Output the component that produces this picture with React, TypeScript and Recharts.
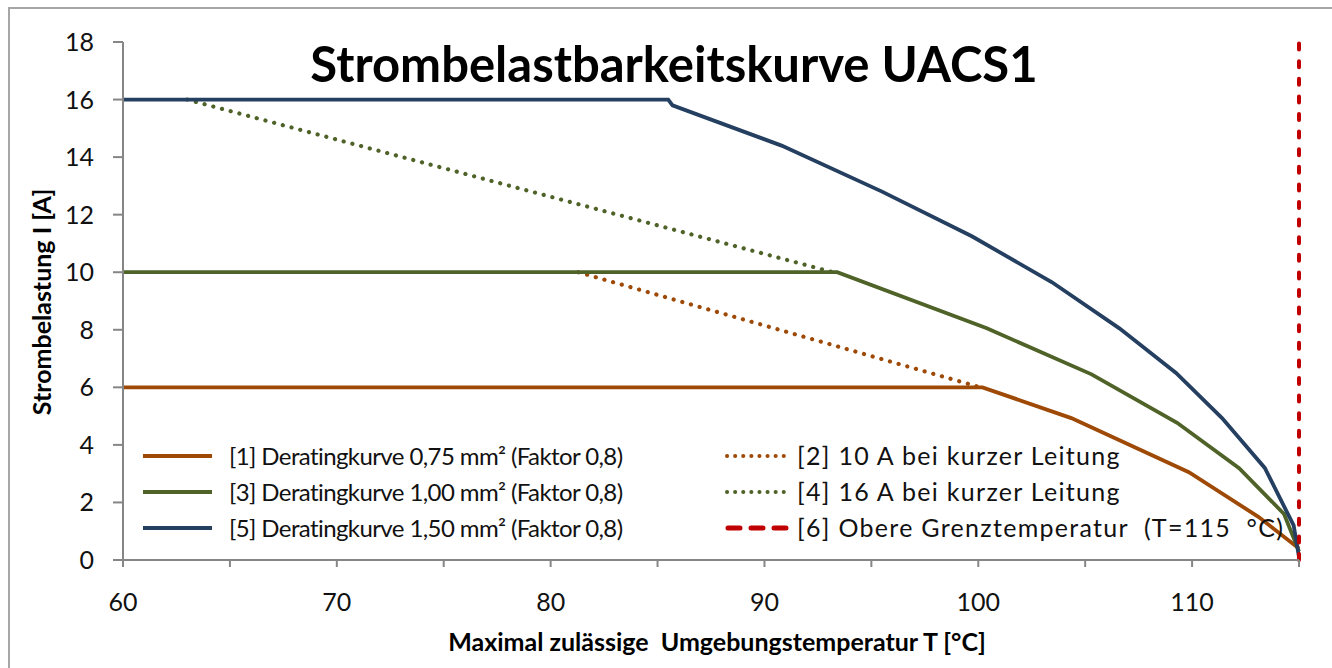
import React from 'react';
import { LineChart, Line, XAxis, YAxis, Legend } from 'recharts';

// ---- data ----
const temp075 = [60, 100.2, 104.35, 109.85, 113.1, 115];
const curr075 = [6, 6, 4.93, 3.05, 1.5, 0.4];

const temp10A = [81.3, 100.1];
const curr10A = [10, 6];

const temp100 = [60, 93.4, 100.4, 105.3, 109.3, 112.2, 114.3, 115];
const curr100 = [10, 10, 8.05, 6.45, 4.77, 3.19, 1.6, 0.3];

const temp16A = [63, 93.2];
const curr16A = [16, 10];

const temp150 = [60, 85.5, 85.7, 90.8, 95.5, 99.7, 103.45, 106.6, 109.25, 111.4, 113.4, 114.75, 115];
const curr150 = [16, 16, 15.8, 14.4, 12.8, 11.25, 9.65, 8.05, 6.5, 4.93, 3.2, 1.2, 0.1];

const tempLimit = [115, 115];
const currLimit = [0, 18];

const xTicks = [60, 65, 70, 75, 80, 85, 90, 95, 100, 105, 110, 115];
const xLabelTicks = [60, 70, 80, 90, 100, 110];
const yTicks = [0, 2, 4, 6, 8, 10, 12, 14, 16, 18];

const seriesNames = [
  '[1] Deratingkurve 0,75 mm² (Faktor 0,8)',
  '[2] 10 A bei kurzer Leitung',
  '[3] Deratingkurve 1,00 mm² (Faktor 0,8)',
  '[4] 16 A bei kurzer Leitung',
  '[5] Deratingkurve 1,50 mm² (Faktor 0,8)',
  '[6] Obere Grenztemperatur  (T=115  °C)',
];

const titleText = 'Strombelastbarkeitskurve UACS1';
const xAxisTitle = 'Maximal zulässige  Umgebungstemperatur T [°C]';
const yAxisTitle = 'Strombelastung I [A]';

const zip = (xs: number[], ys: number[]) => xs.map((x, i) => ({ x, y: ys[i] }));

const BROWN = '#9E4A06';
const GREEN = '#4F6228';
const BLUE = '#243F60';
const RED = '#C00000';
const AXIS = '#868686';
const FONT = 'Lato, "DejaVu Sans", sans-serif';

const DOTTED = '0.1 8.9';

const legendStyles = [
  { color: BROWN, kind: 'solid' },
  { color: BROWN, kind: 'dot' },
  { color: GREEN, kind: 'solid' },
  { color: GREEN, kind: 'dot' },
  { color: BLUE, kind: 'solid' },
  { color: RED, kind: 'dash' },
];

const XTick = (props: any) => {
  const { x, payload } = props;
  if (!xLabelTicks.includes(payload.value)) return null;
  return (
    <text x={x} y={611} textAnchor="middle" fontFamily={FONT} fontSize={25} fill="#111">
      {payload.value}
    </text>
  );
};

const YTick = (props: any) => {
  const { y, payload } = props;
  return (
    <text x={94} y={y} dy="0.36em" textAnchor="end" fontFamily={FONT} fontSize={25} fill="#111">
      {payload.value}
    </text>
  );
};

const LegendContent = () => {
  const rowsY = [456, 492, 528];
  return (
    <svg width={1332} height={668} style={{ position: 'absolute', left: 0, top: 0 }}>
      {seriesNames.map((name, i) => {
        const col = i % 2;
        const row = Math.floor(i / 2);
        const y = rowsY[row];
        const x1 = col === 0 ? 143 : 725;
        const x2 = col === 0 ? 212 : 788;
        const tx = col === 0 ? 229 : 797;
        const st = legendStyles[i];
        let line;
        if (st.kind === 'solid') {
          line = <line x1={x1} x2={x2} y1={y} y2={y} stroke={st.color} strokeWidth={4} />;
        } else if (st.kind === 'dot') {
          line = (
            <line x1={x1 + 2} x2={x2} y1={y} y2={y} stroke={st.color} strokeWidth={4}
              strokeDasharray="0.1 8" strokeLinecap="round" />
          );
        } else {
          line = (
            <line x1={x1 + 3} x2={x2} y1={y} y2={y} stroke={st.color} strokeWidth={5}
              strokeDasharray="12 11" strokeLinecap="round" />
          );
        }
        return (
          <g key={i}>
            {line}
            <text x={tx} y={y} dy="0.36em" fontFamily={FONT} fontSize={col === 0 ? 24 : 25}
              letterSpacing={col === 0 ? -0.6 : 1.3} fill="#111"
              style={{ whiteSpace: 'pre' }}>
              {name}
            </text>
          </g>
        );
      })}
    </svg>
  );
};

export default function App() {
  return (
    <div style={{ position: 'absolute', left: 0, top: 0, width: 1332, height: 668, overflow: 'hidden', background: '#fff' }}>
      <div style={{ position: 'absolute', left: 8, top: 7, width: 1400, height: 700, border: '2px solid #a6a6a6' }} />
      <div style={{ position: 'absolute', left: 0, top: 0 }}>
        <LineChart width={1332} height={668} margin={{ top: 42, right: 33, bottom: 0, left: 0 }}>
          <XAxis
            type="number"
            dataKey="x"
            domain={[60, 115]}
            ticks={xTicks}
            interval={0}
            height={108}
            tickSize={7}
            axisLine={{ stroke: AXIS, strokeWidth: 2 }}
            tickLine={{ stroke: AXIS, strokeWidth: 2 }}
            tick={<XTick />}
          />
          <YAxis
            type="number"
            dataKey="y"
            domain={[0, 18]}
            ticks={yTicks}
            interval={0}
            width={123}
            tickSize={10}
            axisLine={{ stroke: AXIS, strokeWidth: 2 }}
            tickLine={{ stroke: AXIS, strokeWidth: 2 }}
            tick={<YTick />}
          />
          <Line data={zip(temp10A, curr10A)} dataKey="y" type="linear" stroke={BROWN} strokeWidth={4.2}
            strokeDasharray={DOTTED} strokeLinecap="round" dot={false} isAnimationActive={false} />
          <Line data={zip(temp16A, curr16A)} dataKey="y" type="linear" stroke={GREEN} strokeWidth={4.2}
            strokeDasharray={DOTTED} strokeLinecap="round" dot={false} isAnimationActive={false} />
          <Line data={zip(temp075, curr075)} dataKey="y" type="linear" stroke={BROWN} strokeWidth={3.8}
            dot={false} isAnimationActive={false} />
          <Line data={zip(temp100, curr100)} dataKey="y" type="linear" stroke={GREEN} strokeWidth={3.8}
            dot={false} isAnimationActive={false} />
          <Line data={zip(temp150, curr150)} dataKey="y" type="linear" stroke={BLUE} strokeWidth={3.8}
            dot={false} isAnimationActive={false} />
          <Line data={zip(tempLimit, currLimit)} dataKey="y" type="linear" stroke={RED} strokeWidth={4}
            strokeDasharray="6 11.6" strokeLinecap="round" dot={false} isAnimationActive={false} />
          <Legend verticalAlign="middle" align="center" layout="horizontal"
            wrapperStyle={{ position: 'absolute', left: 0, top: 0, width: 1332, height: 668 }}
            content={<LegendContent />} />
        </LineChart>
      </div>
      <div style={{ position: 'absolute', left: 0, top: 0, width: 1332, height: 668, pointerEvents: 'none' }}>
        <svg width={1332} height={668}>
          <text x={674} y={82} textAnchor="middle" fontFamily={FONT} fontWeight="bold" fontSize={49} fill="#000">
            {titleText}
          </text>
          <text x={717} y={651} textAnchor="middle" fontFamily={FONT} fontWeight="bold" fontSize={25} fill="#000"
            style={{ whiteSpace: 'pre' }}>
            {xAxisTitle}
          </text>
          <text x={51} y={302} textAnchor="middle" fontFamily={FONT} fontWeight="bold" fontSize={25} fill="#000"
            transform="rotate(-90 51 302)">
            {yAxisTitle}
          </text>
        </svg>
      </div>
    </div>
  );
}
